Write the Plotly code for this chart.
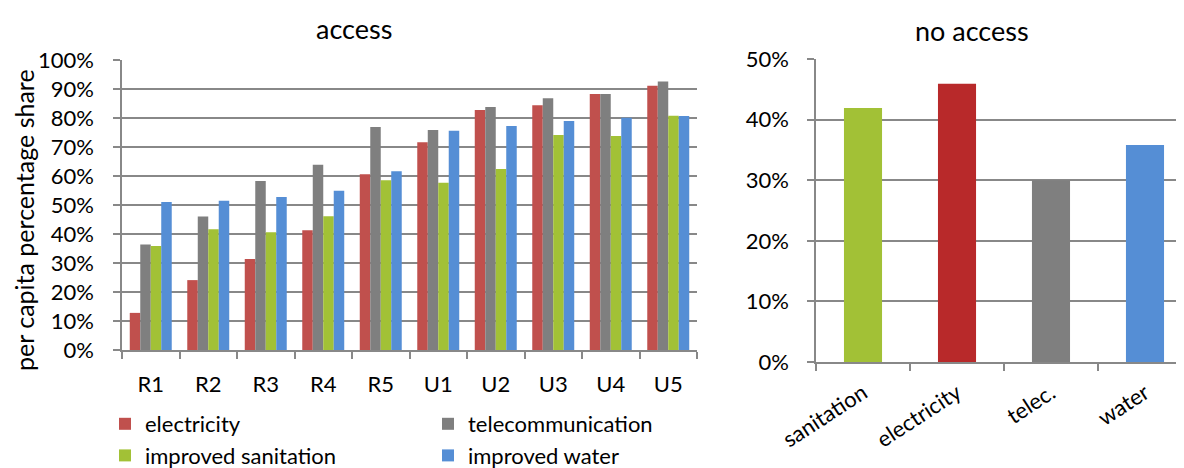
import plotly.graph_objects as go

# ---- data ----
groups = ["R1", "R2", "R3", "R4", "R5", "U1", "U2", "U3", "U4", "U5"]
electricity = [12.8, 24.1, 31.4, 41.3, 60.6, 71.6, 82.8, 84.4, 88.3, 91.1]
telecommunication = [36.4, 46.0, 58.3, 63.9, 76.9, 75.9, 83.8, 86.8, 88.3, 92.6]
improved_sanitation = [35.9, 41.6, 40.6, 46.1, 58.5, 57.7, 62.4, 74.1, 73.8, 80.8]
improved_water = [51.0, 51.5, 52.8, 54.9, 61.6, 75.6, 77.2, 79.0, 80.1, 80.7]

no_access_labels = ["sanitation", "electricity", "telec.", "water"]
no_access_values = [41.9, 45.9, 30.0, 35.8]

left_ticks = [0, 10, 20, 30, 40, 50, 60, 70, 80, 90, 100]
right_ticks = [0, 10, 20, 30, 40, 50]

# ---- styles ----
FONT = "Lato, 'Open Sans', sans-serif"
GRID = "#888888"
c_el, c_tel, c_san, c_wat = "#C0504D", "#7F7F7F", "#A2C136", "#558ED5"
right_colors = ["#A2C136", "#B8292A", "#7F7F7F", "#558ED5"]

fig = go.Figure()

series = [
    ("electricity", electricity, c_el, "legend"),
    ("telecommunication", telecommunication, c_tel, "legend2"),
    ("improved sanitation", improved_sanitation, c_san, "legend"),
    ("improved water", improved_water, c_wat, "legend2"),
]
for name, vals, col, lg in series:
    fig.add_trace(go.Bar(
        x=groups, y=vals, name=name, marker=dict(color=col, line=dict(width=0)),
        xaxis="x", yaxis="y", legend=lg,
    ))

fig.add_trace(go.Bar(
    x=no_access_labels, y=no_access_values, width=0.405,
    marker=dict(color=right_colors, line=dict(width=0)),
    xaxis="x2", yaxis="y2", showlegend=False,
))

W, H = 1184, 468
OFF = 8  # page body margin offset
def fx(px):
    return (px - OFF) / W
def fy(py):
    return (H - (py - OFF)) / H

axis_common = dict(
    showline=True, linecolor=GRID, linewidth=1.5, automargin=False,
    ticks="outside", tickcolor=GRID, tickwidth=1.5, ticklen=7,
    tickfont=dict(family=FONT, size=22, color="black"),
)

fig.update_layout(
    width=W, height=H,
    margin=dict(l=0, r=0, t=0, b=0, autoexpand=False),
    paper_bgcolor="white", plot_bgcolor="white",
    font=dict(family=FONT, size=22, color="black"),
    barmode="group", bargap=0.27, bargroupgap=0,
    xaxis=dict(domain=[fx(122), fx(697)], anchor="y", type="category",
               tickson="boundaries", showgrid=False, ticklabelstandoff=14, **axis_common),
    yaxis=dict(domain=[fy(350), fy(60)], anchor="x", range=[0, 100],
               tickvals=left_ticks, ticktext=[f"{v}%" for v in left_ticks],
               showgrid=True, gridcolor=GRID, gridwidth=1.5, ticklabelstandoff=15,
               **axis_common),
    xaxis2=dict(domain=[fx(816), 1.0], anchor="y2", type="category", range=[-0.5, 3.5],
                tickson="boundaries", showgrid=False, tickangle=-33, ticklabelstandoff=8, **axis_common),
    yaxis2=dict(domain=[fy(362), fy(59)], anchor="x2", range=[0, 50],
                tickvals=right_ticks, ticktext=[f"{v}%" for v in right_ticks],
                showgrid=True, gridcolor=GRID, gridwidth=1.5, ticklabelstandoff=14, **axis_common),
    legend=dict(x=fx(105), y=fy(403), xanchor="left", yanchor="top", orientation="v",
                font=dict(family=FONT, size=22), tracegroupgap=0, bgcolor="rgba(0,0,0,0)"),
    legend2=dict(x=fx(428), y=fy(403), xanchor="left", yanchor="top", orientation="v",
                 font=dict(family=FONT, size=22), tracegroupgap=0, bgcolor="rgba(0,0,0,0)"),
    annotations=[
        dict(text="access", x=fx(354), y=fy(29), xref="paper", yref="paper",
             showarrow=False, font=dict(family=FONT, size=27), xanchor="center", yanchor="middle"),
        dict(text="no access", x=fx(972), y=fy(30), xref="paper", yref="paper",
             showarrow=False, font=dict(family=FONT, size=27), xanchor="center", yanchor="middle"),
        dict(text="per capita percentage share", x=fx(8), y=fy(220), xref="paper", yref="paper",
             showarrow=False, textangle=-90, font=dict(family=FONT, size=25), borderpad=0,
             xanchor="left", yanchor="middle"),
    ],
)

fig.write_html("out.html")
